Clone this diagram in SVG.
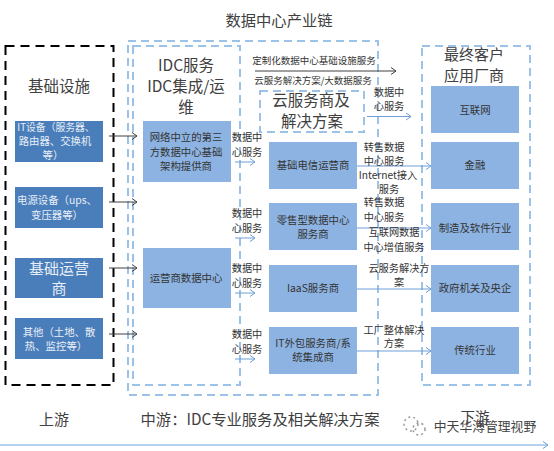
<svg xmlns="http://www.w3.org/2000/svg" width="554" height="451" viewBox="0 0 554 451">
<style>
text{font-family:"Noto Sans CJK SC","Liberation Sans",sans-serif;fill:#404040;text-anchor:middle}
.t18{font-size:15.500px}.t11{font-size:10.400px;fill:#333}.t12{font-size:10.200px;fill:#333}.t10{font-size:9.500px;fill:#333}.w{fill:#e8eef6}
.lb{fill:none;stroke:#9cc2e8;stroke-width:2;stroke-dasharray:8 5}
.bk{fill:none;stroke:#000;stroke-width:2;stroke-dasharray:9 6}
.d{fill:#4a7ebb}.l{fill:#8db3e2}
.ab{fill:none;stroke:#404040;stroke-width:1}.ac{fill:none;stroke:#6f9fd8;stroke-width:1}
</style>
<defs>
<marker id="ma" markerWidth="8" markerHeight="8" refX="6" refY="4" orient="auto" markerUnits="userSpaceOnUse"><path d="M1 0.5L6 4L1 7.5" fill="none" stroke="#404040"/></marker>
<marker id="mb" markerWidth="8" markerHeight="8" refX="6" refY="4" orient="auto" markerUnits="userSpaceOnUse"><path d="M1 0.5L6 4L1 7.5" fill="none" stroke="#6f9fd8"/></marker>
</defs>
<rect width="554" height="451" fill="#fff"/>
<g id="frames">
<rect class="bk" x="5.500" y="46" width="108" height="339"/>
<rect class="lb" x="128" y="41" width="250" height="354"/>
<rect class="lb" x="133" y="46" width="107" height="339"/>
<rect class="lb" x="260" y="91" width="104" height="41"/>
<rect class="lb" x="422" y="46" width="108" height="339"/>
</g>
<g id="up">
<g id="n1"><rect class="d" x="15" y="121" width="88" height="41"/><text class="t11 w" x="56" y="131" style="font-size:9.800px">IT设备（服务器、</text><text class="t11 w" x="55" y="145">路由器、交换机</text><text class="t11 w" x="53" y="159">等）</text></g>
<g id="n2"><rect class="d" x="15" y="187" width="88" height="41"/><text class="t11 w" x="57" y="204">电源设备（ups、</text><text class="t11 w" x="57" y="219">变压器等）</text></g>
<g id="n3"><rect class="d" x="15" y="258" width="88" height="40"/><text class="w" style="font-size:15px" x="59" y="274">基础运营</text><text class="w" style="font-size:15px" x="59" y="294">商</text></g>
<g id="n4"><rect class="d" x="15" y="318" width="88" height="41"/><text class="t11 w" x="59" y="336">其他（土地、散</text><text class="t11 w" x="56" y="350">热、监控等）</text></g>
</g>
<g id="mid">
<g id="n5"><rect class="l" x="143" y="121" width="88" height="61"/><text class="t11" x="186" y="141">网络中立的第三</text><text class="t11" x="186" y="156">方数据中心基础</text><text class="t11" x="186" y="170">架构提供商</text></g>
<g id="n6"><rect class="l" x="143" y="248" width="88" height="60"/><text class="t11" x="186" y="282">运营商数据中心</text></g>
<g id="n7"><rect class="l" x="269" y="142" width="88" height="47"/><text class="t11" x="313" y="169">基础电信运营商</text></g>
<g id="n8"><rect class="l" x="269" y="203" width="88" height="47"/><text class="t11" x="313" y="224">零售型数据中心</text><text class="t11" x="313" y="238">服务商</text></g>
<g id="n9"><rect class="l" x="269" y="265" width="88" height="47"/><text class="t11" x="313" y="292">IaaS服务商</text></g>
<g id="n10"><rect class="l" x="269" y="327" width="88" height="47"/><text class="t11" x="313" y="347">IT外包服务商/系</text><text class="t11" x="313" y="361">统集成商</text></g>
</g>
<g id="down">
<g id="n11"><rect class="l" x="431" y="86" width="88" height="47"/><text class="t11" x="475" y="114">互联网</text></g>
<g id="n12"><rect class="l" x="431" y="142" width="88" height="47"/><text class="t11" x="475" y="169">金融</text></g>
<g id="n13"><rect class="l" x="431" y="203" width="88" height="47"/><text class="t11" x="475" y="232">制造及软件行业</text></g>
<g id="n14"><rect class="l" x="431" y="265" width="88" height="47"/><text class="t11" x="475" y="292">政府机关及央企</text></g>
<g id="n15"><rect class="l" x="431" y="327" width="88" height="47"/><text class="t11" x="475" y="354">传统行业</text></g>
</g>
<g id="connectors">
<path class="ab" marker-end="url(#ma)" d="M109 136H137"/>
<path class="ab" marker-end="url(#ma)" d="M109 202H137"/>
<path class="ab" marker-end="url(#ma)" d="M109 268H137"/>
<path class="ab" marker-end="url(#ma)" d="M109 334H137"/>
<path class="ab" marker-end="url(#ma)" d="M255 71H396"/>
<path class="ac" marker-end="url(#mb)" d="M235 162H255"/>
<path class="ac" marker-end="url(#mb)" d="M235 238H255"/>
<path class="ac" marker-end="url(#mb)" d="M235 293H255"/>
<path class="ac" marker-end="url(#mb)" d="M235 359H255"/>
<path class="ac" marker-end="url(#mb)" d="M367 116.500H411"/>
<path class="ac" marker-end="url(#mb)" d="M357 166H431"/>
<path class="ac" marker-end="url(#mb)" d="M357 228H431"/>
<path class="ac" marker-end="url(#mb)" d="M357 289H431"/>
<path class="ac" marker-end="url(#mb)" d="M357 351H431"/>
<path class="ac" style="stroke:#9cc2e8;stroke-width:1.500" marker-end="url(#mb)" d="M0 445H548"/>
</g>
<g id="labels">
<text class="t18" x="279" y="26" style="font-size:15.300px">数据中心产业链</text>
<text class="t18" x="59" y="92">基础设施</text>
<text class="t18" x="186" y="71">IDC服务</text>
<text class="t18" x="186" y="92">IDC集成/运</text>
<text class="t18" x="186" y="113">维</text>
<text class="t18" x="311" y="106">云服务商及</text>
<text class="t18" x="312" y="127">解决方案</text>
<text class="t18" x="474" y="60" style="font-size:15px">最终客户</text>
<text class="t18" x="474" y="81" style="font-size:15px">应用厂商</text>
<text class="t10" x="314" y="64">定制化数据中心基础设施服务</text>
<text class="t10" x="313" y="84">云服务解决方案/大数据服务</text>
<g id="edge-labels">
<text class="t12" x="247" y="141">数据中</text><text class="t12" x="247" y="156">心服务</text>
<text class="t12" x="247" y="217">数据中</text><text class="t12" x="247" y="232">心服务</text>
<text class="t12" x="247" y="272">数据中</text><text class="t12" x="247" y="287">心服务</text>
<text class="t12" x="247" y="338">数据中</text><text class="t12" x="247" y="353">心服务</text>
<text class="t12" x="389" y="96">数据中</text><text class="t12" x="389" y="110">心服务</text>
<text class="t12" x="384" y="151">转售数据</text><text class="t12" x="384" y="165">中心服务</text>
<text class="t12" x="388" y="179">Internet接入</text><text class="t12" x="389" y="193">服务</text>
<text class="t12" x="384" y="206">转售数据</text><text class="t12" x="384" y="221">中心服务</text>
<text class="t12" x="394" y="236">互联网数据</text><text class="t12" x="394" y="251">中心增值服务</text>
<text class="t12" x="399" y="272">云服务解决方</text><text class="t12" x="399" y="286">案</text>
<text class="t12" x="394" y="334">工厂整体解决</text><text class="t12" x="394" y="347">方案</text>
</g>
<text x="54" y="425" style="font-size:15px">上游</text>
<text x="260" y="425" style="font-size:15.300px">中游：IDC专业服务及相关解决方案</text>
<text x="475" y="423" style="font-size:14.500px">下游</text>
</g>
<g id="watermark">
<circle cx="411" cy="424" r="7" fill="none" stroke="#999" stroke-width="1.500" stroke-dasharray="2 3"/>
<circle cx="419" cy="429" r="6" fill="none" stroke="#999" stroke-width="1.500" stroke-dasharray="2 3"/>
<text x="485" y="431" style="font-size:12.800px;fill:#444">中天华溥管理视野</text>
</g>
</svg>
